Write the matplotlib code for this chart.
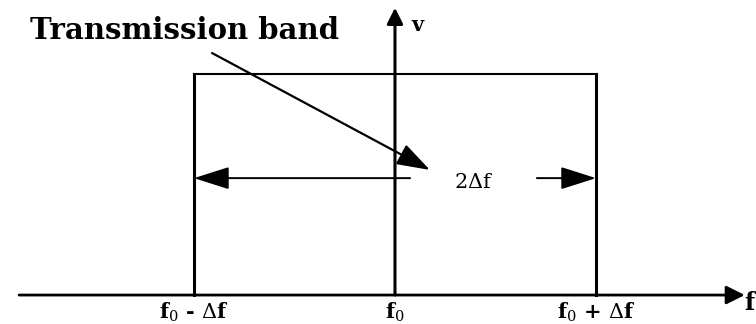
import matplotlib
matplotlib.use("Agg")
import matplotlib.pyplot as plt

plt.rcParams['mathtext.fontset'] = 'dejavuserif'

# Data (frequency in units of delta f, centred on f0)
f0 = 0.0
delta_f = 1.0
band_edges = [f0 - delta_f, f0 + delta_f]
amplitude = 1.0
tick_positions = [f0 - delta_f, f0, f0 + delta_f]
tick_labels = [r'f$_0$ - $\Delta$f', r'f$_0$', r'f$_0$ + $\Delta$f']

fig = plt.figure(figsize=(7.56, 3.24), dpi=100)
ax = fig.add_axes([0, 0, 1, 1])
ax.set_xlim(-1.965, 1.796)
ax.set_ylim(-0.131, 1.335)
ax.axis('off')

k = 'black'
serif = 'DejaVu Serif'

# frequency axis with arrow
ax.annotate('', xy=(1.74, 0), xytext=(-1.87, 0),
            arrowprops=dict(arrowstyle='-|>', mutation_scale=28, lw=2, color=k,
                            shrinkA=0, shrinkB=0))
# vertical axis with arrow
ax.annotate('', xy=(f0, 1.30), xytext=(f0, 0),
            arrowprops=dict(arrowstyle='-|>', mutation_scale=24, lw=2.2, color=k,
                            shrinkA=0, shrinkB=0))

# transmission band rectangle
ax.plot([band_edges[0], band_edges[0]], [0, amplitude], color=k, lw=2.2)
ax.plot([band_edges[1], band_edges[1]], [0, amplitude], color=k, lw=2.2)
ax.plot([band_edges[0], band_edges[1]], [amplitude, amplitude], color=k, lw=1.5)

# 2 delta f dimension arrows
dim_y = 0.529
ax.annotate('', xy=(band_edges[0], dim_y), xytext=(0.075, dim_y),
            arrowprops=dict(arrowstyle='-|>,head_length=1.1,head_width=0.35',
                            mutation_scale=20, lw=1.4, color=k, shrinkA=0, shrinkB=0))
ax.annotate('', xy=(band_edges[1], dim_y), xytext=(0.706, dim_y),
            arrowprops=dict(arrowstyle='-|>,head_length=1.1,head_width=0.35',
                            mutation_scale=20, lw=1.4, color=k, shrinkA=0, shrinkB=0))
ax.text(0.393, 0.511, r'2$\Delta$f', fontsize=15, fontfamily=serif,
        ha='center', va='center', color=k)

# pointer arrow
ax.annotate('', xy=(0.174, 0.566), xytext=(-0.91, 1.095),
            arrowprops=dict(arrowstyle='-|>,head_length=1.2,head_width=0.4',
                            mutation_scale=17, lw=1.6, color=k, shrinkA=0, shrinkB=0))

ax.text(-1.045, 1.199, 'Transmission band', fontsize=21, fontweight='bold',
        fontfamily=serif, ha='center', va='center', color=k)
ax.text(0.114, 1.22, 'v', fontsize=15, fontweight='bold', fontfamily=serif,
        ha='center', va='center', color=k)

for pos, lab in zip(tick_positions, tick_labels):
    ax.text(pos, -0.077, lab, fontsize=15, fontfamily=serif, fontweight='bold',
            ha='center', va='center', color=k)
ax.text(1.79, -0.035, 'f', fontsize=17, fontweight='bold', fontfamily=serif,
        ha='right', va='center', color=k)

fig.savefig('out.png', dpi=100)
